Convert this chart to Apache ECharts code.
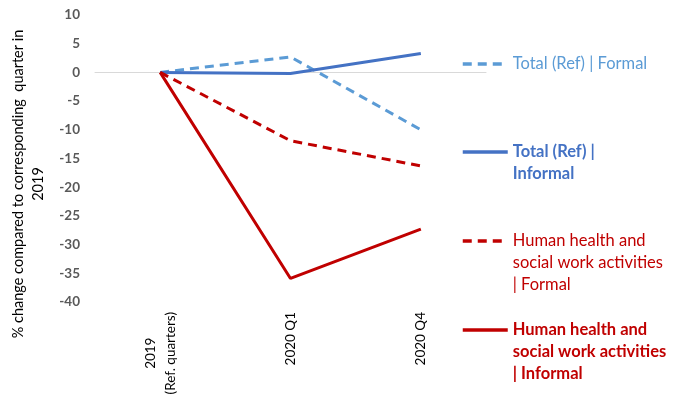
<!DOCTYPE html>
<html><head><meta charset="utf-8">
<script src="https://cdn.jsdelivr.net/npm/echarts@6/dist/echarts.min.js"></script>
<style>html,body{margin:0;padding:0;background:#fff}#c{width:684px;height:403px}</style>
</head><body><div id="c"></div>
<script>
const categories = ['2019\n(Ref. quarters)', '2020 Q1', '2020 Q4'];
const totalFormal = [0, 2.7, -10.0];
const totalInformal = [0, -0.2, 3.3];
const healthFormal = [0, -11.9, -16.3];
const healthInformal = [0, -35.9, -27.3];
const seriesNames = ['Total (Ref) | Formal', 'Total (Ref) | Informal', 'Human health and social work activities | Formal', 'Human health and social work activities | Informal'];
const legendLabels = ['Total (Ref) | Formal', 'Total (Ref) |\nInformal', 'Human health and\nsocial work activities\n| Formal', 'Human health and\nsocial work activities\n| Informal'];
const yTicks = {min: -40, max: 10, interval: 5};
const yName = '% change compared to corresponding  quarter in\n2019';

const FONT = 'Lato';
const LBLUE = '#5B9BD5', BLUE = '#4472C4', RED = '#C00000';
const dash = [9, 6];
const colors = [LBLUE, BLUE, RED, RED];
const bolds = ['normal', 'bold', 'normal', 'bold'];
const iconY = [64, 152, 241, 330];
const LH = 22;

const legends = seriesNames.map((n, i) => {
  const lines = legendLabels[i].split('\n');
  const k = lines.length - 1;
  const txt = Array(k).fill(' ').concat(lines).join('\n');
  return {
    data: [{name: n, textStyle: {color: colors[i], fontWeight: bolds[i]}}],
    left: 461, top: iconY[i] - 11 - LH * k, padding: 0,
    itemWidth: 45, itemHeight: 14,
    lineStyle: {width: 3.5},
    itemStyle: {opacity: 0, borderWidth: 0},
    formatter: () => txt,
    selectedMode: false,
    textStyle: {fontFamily: FONT, fontSize: 16.5, lineHeight: LH}
  };
});

const mk = (name, data, color, type) => ({
  name, type: 'line', data, symbol: 'none', xAxisIndex: 0,
  lineStyle: {color, width: 3, type}, itemStyle: {color}
});

const chart = echarts.init(document.getElementById('c'));
chart.setOption({
  animation: false,
  grid: {left: 95, right: 198, top: 15, bottom: 101},
  legend: legends,
  xAxis: [
    {type: 'category', data: categories, boundaryGap: true,
     axisLine: {show: true, onZero: true, lineStyle: {color: '#D9D9D9', width: 1}},
     axisTick: {show: false}, axisLabel: {show: false}},
    {type: 'category', data: categories, boundaryGap: true, position: 'bottom',
     axisLine: {show: false, onZero: false}, axisTick: {show: false},
     axisLabel: {rotate: 90, margin: 10, fontFamily: FONT, fontSize: 13.5, color: '#000', lineHeight: 20,
       formatter: v => v.split('\n').map(s => '{c|' + s + '}').join('\n'),
       rich: {c: {align: 'center', fontFamily: FONT, fontSize: 13.5, color: '#000', lineHeight: 20}}}}
  ],
  yAxis: {type: 'value', min: yTicks.min, max: yTicks.max, interval: yTicks.interval,
    axisLine: {show: false}, axisTick: {show: false}, splitLine: {show: false},
    axisLabel: {fontFamily: FONT, fontSize: 13.5, fontWeight: 'bold', color: '#595959', margin: 15}},
  graphic: [{type: 'text', x: 28, y: 184, rotation: Math.PI / 2,
    style: {text: yName, fontFamily: FONT, fontSize: 14.5, lineHeight: 20, fill: '#000', align: 'center', verticalAlign: 'middle'}}],
  series: [
    mk(seriesNames[0], totalFormal, LBLUE, dash),
    mk(seriesNames[1], totalInformal, BLUE, 'solid'),
    mk(seriesNames[2], healthFormal, RED, dash),
    mk(seriesNames[3], healthInformal, RED, 'solid')
  ]
});
</script></body></html>
